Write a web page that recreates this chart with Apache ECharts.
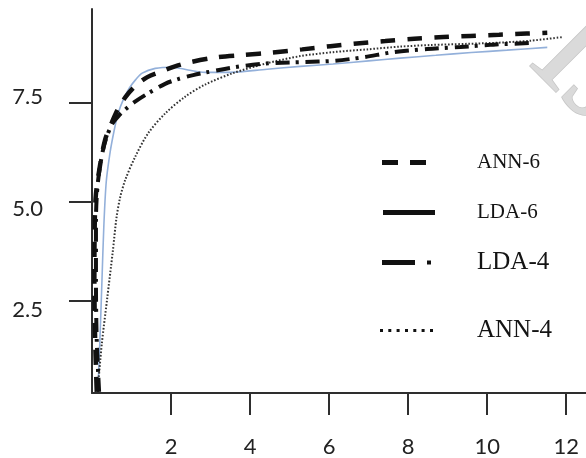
<!DOCTYPE html>
<html>
<head>
<meta charset="utf-8">
<script src="https://cdn.jsdelivr.net/npm/echarts@6/dist/echarts.min.js"></script>
<style>
html,body{margin:0;padding:0;background:#fff;}
#c{width:586px;height:458px;}
</style>
</head>
<body>
<div id="c"></div>
<script>
// ---- data ----
const xTicks = [2, 4, 6, 8, 10, 12];
const yTicks = [2.5, 5.0, 7.5];
const seriesNames = ['ANN-6', 'LDA-6', 'LDA-4', 'ANN-4'];

const ann6X = [0.12, 0.08, 0.06, 0.07, 0.10, 0.20, 0.33, 0.50, 0.66, 0.85, 1.09, 1.40, 1.77, 2.10, 2.50, 3.16, 3.87, 4.58, 5.32, 6.03, 6.70, 7.42, 8.15, 8.89, 9.57, 10.30, 11.00, 11.52];
const ann6Y = [0.20, 1.50, 3.00, 4.50, 5.20, 5.90, 6.56, 7.00, 7.35, 7.65, 7.92, 8.15, 8.30, 8.42, 8.53, 8.65, 8.71, 8.77, 8.85, 8.93, 9.00, 9.06, 9.12, 9.16, 9.19, 9.22, 9.25, 9.27];

const lda6X = [0.15, 0.20, 0.25, 0.30, 0.36, 0.45, 0.55, 0.66, 0.80, 0.95, 1.10, 1.27, 1.60, 2.03, 2.43, 2.86, 3.50, 4.43, 5.27, 6.10, 7.00, 7.80, 8.70, 9.60, 10.50, 11.52];
const lda6Y = [0.25, 1.50, 2.95, 4.40, 5.50, 6.20, 6.75, 7.23, 7.60, 7.88, 8.08, 8.25, 8.37, 8.40, 8.33, 8.27, 8.27, 8.35, 8.42, 8.48, 8.56, 8.63, 8.70, 8.77, 8.83, 8.90];

const lda4X = [0.18, 0.12, 0.10, 0.10, 0.15, 0.30, 0.50, 0.70, 0.84, 1.09, 1.42, 1.85, 2.18, 2.56, 2.90, 3.75, 4.50, 5.35, 6.10, 6.86, 7.62, 8.48, 9.32, 10.15, 11.10];
const lda4Y = [0.20, 1.50, 3.00, 4.50, 5.50, 6.40, 6.95, 7.20, 7.33, 7.53, 7.74, 7.98, 8.10, 8.20, 8.27, 8.42, 8.50, 8.53, 8.56, 8.65, 8.78, 8.86, 8.91, 8.97, 9.01];

const ann4X = [0.15, 0.25, 0.38, 0.53, 0.62, 0.71, 0.84, 1.09, 1.42, 1.85, 2.35, 2.86, 3.57, 4.43, 5.27, 6.10, 6.96, 7.80, 8.56, 9.50, 10.30, 11.10, 11.90];
const ann4Y = [0.32, 1.43, 2.52, 3.78, 4.60, 5.10, 5.55, 6.13, 6.73, 7.23, 7.65, 7.96, 8.25, 8.50, 8.68, 8.78, 8.85, 8.92, 8.96, 8.99, 9.02, 9.07, 9.16];

function pairs(xs, ys) { return xs.map((x, i) => [x, ys[i]]); }

// ---- styles ----
const ink = '#111111';
const axisColor = '#2e2e2e';
const labelFont = 'Lato';
const serifFont = 'Liberation Serif';

const lineStyles = {
  'ANN-6': { color: ink, width: 4.5, type: [15, 12] },
  'LDA-6': { color: '#93b0da', width: 1.6, type: 'solid' },
  'LDA-4': { color: ink, width: 4, type: [14, 6, 3, 7] },
  'ANN-4': { color: '#333333', width: 2, type: [1.6, 1.8] }
};
const seriesData = {
  'ANN-6': pairs(ann6X, ann6Y),
  'LDA-6': pairs(lda6X, lda6Y),
  'LDA-4': pairs(lda4X, lda4Y),
  'ANN-4': pairs(ann4X, ann4Y)
};

// legend layout (one legend per entry so each can sit where the reference puts it)
const legendLayout = {
  'ANN-6': { left: 382, top: 152, w: 44, h: 5, icon: 'path://M0,0H16V5H0Z M28,0H44V5H28Z', font: 21, pad: [0, 0, 5, 46] },
  'LDA-6': { left: 383, top: 202, w: 52, h: 5, icon: 'path://M0,0H52V5H0Z', font: 21, pad: [0, 0, 13, 37] },
  'LDA-4': { left: 382, top: 250, w: 49, h: 5, icon: 'path://M0,0H33V5H0Z M45,0.5H49V4.5H45Z', font: 25, pad: [0, 0, 15, 41] },
  'ANN-4': { left: 380, top: 318, w: 53, h: 3, icon: 'path://M0,0h3v3h-3z M8.3,0h3v3h-3z M16.6,0h3v3h-3z M25,0h3v3h-3z M33.3,0h3v3h-3z M41.6,0h3v3h-3z M50,0h3v3h-3z', font: 25, pad: [2, 0, 0, 39] }
};

const yLabelRich = {
  y0: { fontFamily: labelFont, fontSize: 22, color: '#222', padding: [18, 0, 0, 0] },
  y1: { fontFamily: labelFont, fontSize: 22, color: '#222', padding: [14, 0, 0, 0] },
  y2: { fontFamily: labelFont, fontSize: 22, color: '#222', padding: [0, 0, 11, 0] }
};

const drawOrder = ['LDA-6', 'ANN-4', 'LDA-4', 'ANN-6'];

const chart = echarts.init(document.getElementById('c'), null, { renderer: 'canvas' });
chart.setOption({
  animation: false,
  backgroundColor: '#ffffff',
  grid: { left: 92, right: 0, top: 9, bottom: 65, containLabel: false, outerBoundsMode: 'none' },
  xAxis: {
    type: 'value', min: 0, max: 12.5,
    axisLine: { show: true, lineStyle: { color: axisColor, width: 2 } },
    axisTick: { show: true, customValues: xTicks, length: 22, lineStyle: { color: axisColor, width: 2 } },
    axisLabel: { customValues: xTicks, margin: 43, fontFamily: labelFont, fontSize: 22, color: '#222' },
    splitLine: { show: false }
  },
  yAxis: {
    type: 'value', min: 0.17, max: 9.87,
    axisLine: { show: true, lineStyle: { color: axisColor, width: 2 } },
    axisTick: { show: true, customValues: yTicks, length: 23, lineStyle: { color: axisColor, width: 2 } },
    axisLabel: {
      customValues: yTicks, margin: 49, fontFamily: labelFont, fontSize: 22, color: '#222',
      formatter: function (v) {
        let i = 0;
        yTicks.forEach((t, k) => { if (Math.abs(t - v) < 1e-6) i = k; });
        return '{y' + i + '|' + v.toFixed(1) + '}';
      },
      rich: yLabelRich
    },
    splitLine: { show: false }
  },
  legend: seriesNames.map(name => {
    const L = legendLayout[name];
    return {
      left: L.left, top: L.top, padding: 0, orient: 'vertical',
      itemWidth: L.w, itemHeight: L.h, symbolKeepAspect: false, selectedMode: false,
      data: [{
        name: name, icon: L.icon,
        itemStyle: { color: ink, borderWidth: 0 },
        textStyle: { fontFamily: serifFont, fontSize: L.font, color: '#141414', padding: L.pad }
      }]
    };
  }),
  graphic: [{
    type: 'text', x: 503, y: 86, rotation: -Math.PI / 4, z: -10, silent: true,
    style: { text: 'IJIRT', font: '140px "Liberation Serif"', fill: '#dadada', stroke: '#c6c6c6', lineWidth: 1.5, align: 'left', verticalAlign: 'bottom' }
  }],
  series: drawOrder.map(name => ({
    name: name, type: 'line', symbol: 'none', showSymbol: false, smooth: 0.3,
    data: seriesData[name],
    lineStyle: lineStyles[name],
    itemStyle: { color: lineStyles[name].color },
    emphasis: { disabled: true },
    z: 3
  }))
});
</script>
</body>
</html>
